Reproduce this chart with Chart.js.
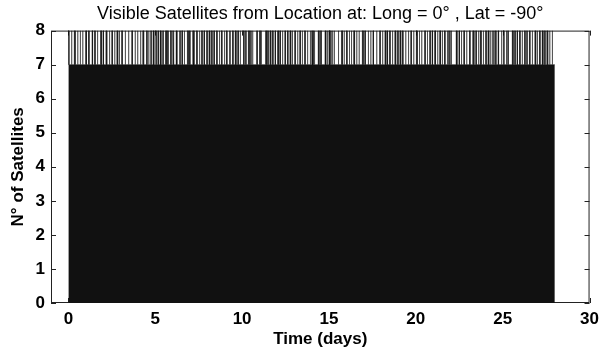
<!DOCTYPE html>
<html><head><meta charset="utf-8">
<script src="https://cdn.jsdelivr.net/npm/chart.js@4"></script>
<style>html,body{margin:0;padding:0;background:#fff}</style>
</head><body>
<canvas id="c" width="605" height="353"></canvas>
<script>
const chartTitle = 'Visible Satellites from Location at: Long = 0\u00b0 , Lat = -90\u00b0';
const xLabel = 'Time (days)';
const yLabel = 'N\u00b0 of Satellites';
const startDay = 0, endDay = 28;
const baseCount = 7, peakCount = 8;
const xTicks = [0, 5, 10, 15, 20, 25, 30];
const yTicks = [0, 1, 2, 3, 4, 5, 6, 7, 8];
// times (days) at which an 8th satellite becomes visible
const spikeDays = [
 0.02,0.17,0.34,0.52,0.67,0.82,0.99,1.16,1.36,1.51,1.66,1.85,1.99,2.16,2.35,2.5,2.65,2.79,2.92,3.07,3.26,3.45,3.65,3.84,3.97,4.14,4.28,4.5,
 4.62,4.75,4.87,5.04,5.15,5.28,5.44,5.59,5.71,5.86,5.9,6.01,6.06,6.2,6.37,6.44,6.53,6.66,6.85,6.97,7.16,7.22,7.38,7.52,7.67,7.8,7.96,8.09,8.24,8.37,8.53,8.68,8.81,8.97,9.1,9.26,
 9.31,9.45,9.6,9.75,9.89,10.08,10.21,10.36,10.47,10.52,10.6,10.84,10.98,11.03,11.1,11.35,11.47,11.6,11.75,11.89,12.04,12.17,12.31,12.46,12.61,12.75,12.88,13.03,13.18,13.32,13.45,13.6,13.75,13.91,
 14.01,14.08,14.16,14.38,14.49,14.54,14.77,14.9,15.0,15.05,15.12,15.2,15.3,15.53,15.72,15.87,16.01,16.16,16.29,16.42,16.58,16.73,16.92,17.06,17.25,17.4,17.53,17.73,17.92,18.07,18.22,18.34,18.49,18.64,
 18.79,18.95,19.08,19.23,19.4,19.56,19.71,19.86,20.03,20.19,20.32,20.51,20.66,20.8,20.93,21.08,21.24,21.37,21.51,21.65,21.81,21.9,21.97,22.04,22.32,22.48,22.61,22.76,22.91,23.09,23.28,
 23.35,23.45,23.58,23.71,23.87,24.02,24.15,24.29,24.4,24.47,24.54,24.6,24.73,24.92,25.06,25.2,25.3,25.55,25.69,25.82,25.97,26.12,26.26,26.39,26.54,26.69,26.85,26.98,27.12,27.27,27.41,27.54,27.69,27.84
];
// how long (hours) each 8th satellite stays visible
const spikeHours = [
 0.4,0.8,1.3,0.8,0.8,0.4,1.3,0.8,0.8,0.8,0.8,1.3,0.8,1.3,0.8,0.8,0.8,1.3,0.8,0.8,0.8,0.8,0.8,0.4,0.8,0.8,1.3,0.8,
 0.4,0.4,1.3,0.4,0.8,1.3,0.4,1.3,0.8,0.4,0.4,0.4,0.4,1.3,1.3,0.4,0.8,0.8,1.3,0.8,0.4,0.4,0.8,1.3,0.8,0.8,0.8,1.3,0.8,0.8,0.8,0.8,0.8,0.8,0.8,0.8,
 0.4,0.8,1.3,0.8,0.4,0.8,0.4,1.3,0.4,0.4,0.4,0.8,0.4,0.4,0.4,1.3,0.8,1.3,0.8,0.8,1.3,0.8,0.8,0.8,0.8,1.3,0.8,0.8,0.8,0.8,0.8,0.8,0.8,0.8,
 0.4,0.4,0.4,1.3,0.4,0.4,1.3,0.8,0.4,0.4,0.4,0.4,0.4,0.8,1.3,0.4,0.8,0.8,0.4,1.3,0.8,0.4,1.3,0.8,0.8,0.4,0.8,0.8,0.8,0.8,1.3,0.8,0.8,0.8,
 1.3,0.8,1.3,0.8,0.8,0.8,0.8,0.8,1.3,0.8,0.8,0.8,0.4,0.8,0.8,1.3,0.8,1.3,0.8,0.8,0.4,0.4,0.4,0.4,1.3,0.8,0.8,0.8,0.8,0.8,0.8,
 0.4,0.8,1.3,1.3,0.8,0.8,1.3,0.8,0.8,0.4,0.4,0.4,0.8,0.8,0.4,0.8,0.4,1.3,0.8,0.8,0.8,0.4,0.8,0.4,0.8,0.8,1.3,0.8,0.8,1.3,0.8,1.3,0.8,0.8
];

const points = [{x: startDay, y: baseCount}];
for (let i = 0; i < spikeDays.length; i++) {
  const t = spikeDays[i];
  const next = i + 1 < spikeDays.length ? spikeDays[i + 1] : endDay;
  const e = Math.min(t + spikeHours[i] / 24, next - 0.002);
  points.push({x: t, y: baseCount}, {x: t, y: peakCount}, {x: e, y: peakCount}, {x: e, y: baseCount});
}
points.push({x: endDay, y: baseCount});

const axesBox = {
  id: 'axesBox',
  beforeDatasetsDraw(chart) {
    const {ctx, chartArea: a, scales: {x, y}} = chart;
    ctx.save();
    ctx.strokeStyle = '#222';
    ctx.lineWidth = 1;
    ctx.strokeRect(a.left + 0.5, a.top + 0.5, a.right - a.left - 1, a.bottom - a.top - 1);
    ctx.beginPath();
    const L = 5;
    yTicks.forEach(v => {
      const py = Math.round(y.getPixelForValue(v)) + 0.5;
      ctx.moveTo(a.left, py); ctx.lineTo(a.left + L, py);
      ctx.moveTo(a.right, py); ctx.lineTo(a.right - L, py);
    });
    xTicks.forEach(v => {
      const px = Math.round(x.getPixelForValue(v)) + 0.5;
      ctx.moveTo(px, a.bottom); ctx.lineTo(px, a.bottom - L);
      ctx.moveTo(px, a.top); ctx.lineTo(px, a.top + L);
    });
    ctx.stroke();
    ctx.restore();
  }
};

const font = 'Liberation Sans, Arial, Helvetica, sans-serif';
new Chart(document.getElementById('c'), {
  type: 'line',
  data: { datasets: [{
    data: points,
    fill: 'origin',
    backgroundColor: '#111',
    borderColor: '#111',
    borderWidth: 0.5,
    pointRadius: 0,
    tension: 0
  }]},
  options: {
    responsive: false,
    animation: false,
    devicePixelRatio: 1,
    layout: { padding: { left: 0, right: 12, top: 0, bottom: 0 } },
    plugins: {
      legend: { display: false },
      tooltip: { enabled: false },
      title: {
        display: true, text: chartTitle, fullSize: false, color: '#000',
        font: { family: font, size: 18, weight: 'normal' },
        padding: { top: 3, bottom: 6 }
      }
    },
    scales: {
      x: {
        type: 'linear', min: -1, max: 30,
        afterBuildTicks: s => { s.ticks = xTicks.map(v => ({value: v})); },
        grid: { display: false, drawTicks: false },
        border: { display: false },
        ticks: { color: '#000', font: { family: font, size: 17, weight: 'bold' }, padding: 6, maxRotation: 0 },
        title: { display: true, text: xLabel, color: '#000', font: { family: font, size: 17, weight: 'bold' }, padding: { top: 0, bottom: 3 } },
        afterFit: s => { s.height = 50; }
      },
      y: {
        type: 'linear', min: 0, max: 8,
        afterBuildTicks: s => { s.ticks = yTicks.map(v => ({value: v})); },
        grid: { display: false, drawTicks: false },
        border: { display: false },
        ticks: { color: '#000', font: { family: font, size: 17, weight: 'bold' }, padding: 6 },
        title: { display: true, text: yLabel, color: '#000', font: { family: font, size: 17, weight: 'bold' }, padding: { top: 8, bottom: 0 } },
        afterFit: s => { s.width = 51; }
      }
    }
  },
  plugins: [axesBox]
});
</script>
</body></html>
